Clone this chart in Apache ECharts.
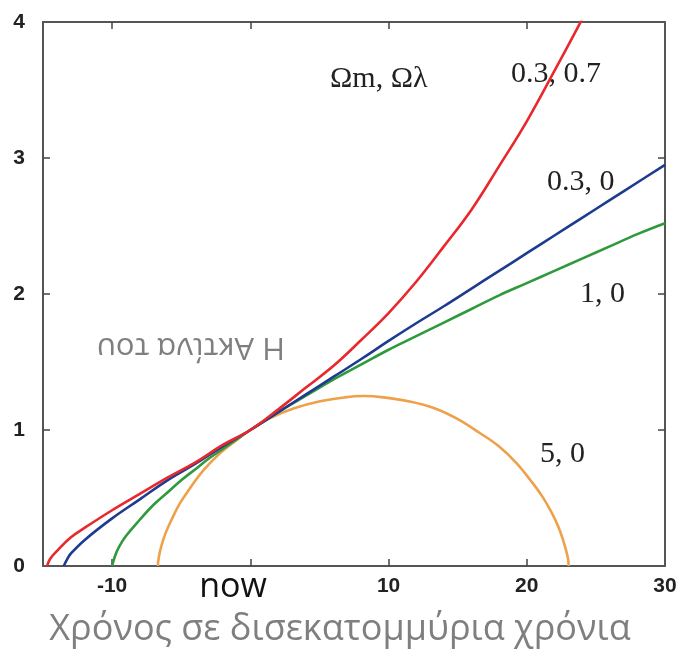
<!DOCTYPE html>
<html>
<head>
<meta charset="utf-8">
<script src="https://cdn.jsdelivr.net/npm/echarts@6/dist/echarts.min.js"></script>
<style>
  html, body { margin: 0; padding: 0; background: #fff; }
  #chart { width: 684px; height: 660px; }
</style>
</head>
<body>
<div id="chart"></div>
<script>
// time in billions of years (0 = now), scale factor
const tRed = [-14.7, -14.5, -14, -13, -12, -10, -8, -6, -4, -2, 0, 2, 4, 6, 8, 10, 12, 14, 16, 18, 20, 22, 24, 25]
const aRed = [0, 0.05, 0.11, 0.21, 0.28, 0.41, 0.53, 0.65, 0.76, 0.89, 1, 1.15, 1.31, 1.47, 1.66, 1.86, 2.09, 2.35, 2.62, 2.94, 3.27, 3.64, 4.02, 4.22]

const tBlue = [-13.5, -13.2, -13, -12, -10, -8, -6, -4, -2, 0, 2, 4, 6, 8, 10, 12, 14, 16, 18, 20, 22, 24, 26, 28, 30]
const aBlue = [0, 0.06, 0.09, 0.19, 0.35, 0.49, 0.63, 0.75, 0.88, 1, 1.13, 1.26, 1.39, 1.52, 1.655, 1.785, 1.91, 2.04, 2.17, 2.3, 2.43, 2.56, 2.69, 2.82, 2.95]

const tGreen = [-10, -9.8, -9.5, -9, -8, -7, -6, -5, -4, -3, -2, -1, 0, 2, 4, 6, 8, 10, 12, 14, 16, 18, 20, 22, 24, 26, 28, 30]
const aGreen = [0, 0.07, 0.14, 0.22, 0.34, 0.45, 0.54, 0.63, 0.71, 0.79, 0.86, 0.93, 1, 1.13, 1.25, 1.37, 1.48, 1.59, 1.69, 1.79, 1.89, 1.99, 2.08, 2.17, 2.26, 2.35, 2.44, 2.52]

const tOrange = [-6.69, -6.67, -6.59, -6.43, -6.14, -5.7, -5.1, -4.31, -3.34, -2.18, -1.19, 0, 1.47, 3.17, 4.97, 6.83, 8.17, 9.66, 11.52, 13.32, 15.01, 16.57, 17.98, 19.22, 20.27, 21.13, 21.81, 22.32, 22.66, 22.88, 22.99, 23.03]
const aOrange = [0, 0.03, 0.08, 0.15, 0.24, 0.34, 0.46, 0.58, 0.71, 0.83, 0.91, 1, 1.09, 1.16, 1.21, 1.24, 1.25, 1.24, 1.21, 1.16, 1.08, 0.98, 0.88, 0.76, 0.63, 0.51, 0.39, 0.28, 0.18, 0.1, 0.05, 0]

const xTicks = [-10, 0, 10, 20]
const xLabels = [-10, 10, 20, 30]
const yTicks = [1, 2, 3]
const yLabels = [0, 1, 2, 3, 4]

function zip(ts, as) {
  return ts.map((t, i) => [t, as[i]])
}

const frame = { show: true, onZero: false, lineStyle: { color: '#555', width: 2 } }
const tickStyle = { color: '#444', width: 1.5 }
const labelStyle = {
  color: '#222',
  fontWeight: 'bold',
  fontSize: 21,
  fontFamily: 'Liberation Sans, Arial, sans-serif'
}

function curve(name, color, data) {
  return {
    name: name,
    type: 'line',
    data: data,
    showSymbol: false,
    smooth: 0.4,
    lineStyle: { color: color, width: 2.6 },
    itemStyle: { color: color },
    animation: false
  }
}

const serif = '30px "Liberation Serif", "Times New Roman", serif'

const chart = echarts.init(document.getElementById('chart'))
chart.setOption({
  backgroundColor: '#fff',
  grid: { left: 43, right: 19, top: 22, bottom: 94 },
  xAxis: [{
    type: 'value',
    position: 'bottom',
    min: -15,
    max: 30,
    interval: 5,
    axisLine: frame,
    axisTick: { inside: true, length: 7, customValues: xTicks, lineStyle: tickStyle },
    axisLabel: Object.assign({ margin: 10, customValues: xLabels }, labelStyle),
    splitLine: { show: false }
  }, {
    type: 'value',
    position: 'top',
    min: -15,
    max: 30,
    interval: 5,
    axisLine: frame,
    axisTick: { inside: true, length: 7, customValues: xTicks, lineStyle: tickStyle },
    axisLabel: { show: false },
    splitLine: { show: false }
  }],
  yAxis: [{
    type: 'value',
    position: 'left',
    min: 0,
    max: 4,
    interval: 1,
    axisLine: frame,
    axisTick: { inside: true, length: 7, customValues: yTicks, lineStyle: tickStyle },
    axisLabel: Object.assign({ margin: 18, customValues: yLabels }, labelStyle),
    splitLine: { show: false }
  }, {
    type: 'value',
    position: 'right',
    min: 0,
    max: 4,
    interval: 1,
    axisLine: frame,
    axisTick: { inside: true, length: 7, customValues: yTicks, lineStyle: tickStyle },
    axisLabel: { show: false },
    splitLine: { show: false }
  }],
  series: [
    curve('5, 0', '#eea04a', zip(tOrange, aOrange)),
    curve('1, 0', '#2f9a3c', zip(tGreen, aGreen)),
    curve('0.3, 0', '#1d3b8f', zip(tBlue, aBlue)),
    curve('0.3, 0.7', '#e8282d', zip(tRed, aRed))
  ],
  graphic: [
    { type: 'text', left: 330, top: 64, style: { text: 'Ωm, Ωλ', font: serif, fill: '#222' } },
    { type: 'text', left: 511, top: 59, style: { text: '0.3, 0.7', font: serif, fill: '#222' } },
    { type: 'text', left: 547, top: 167, style: { text: '0.3, 0', font: serif, fill: '#222' } },
    { type: 'text', left: 580, top: 279, style: { text: '1, 0', font: serif, fill: '#222' } },
    { type: 'text', left: 540, top: 439, style: { text: '5, 0', font: serif, fill: '#222' } },
    {
      type: 'text', x: 191, y: 347, rotation: Math.PI,
      style: { text: 'H Ακτίνα του', font: '31px "Open Sans", sans-serif', fill: '#7f7f7f', align: 'center', verticalAlign: 'middle' }
    },
    {
      type: 'text', x: 233, y: 587,
      style: { text: 'now', font: '34px "Open Sans", sans-serif', fill: '#111', align: 'center', verticalAlign: 'middle' }
    },
    {
      type: 'text', x: 340, y: 630,
      style: { text: 'Χρόνος σε δισεκατομμύρια χρόνια', font: '36px "Open Sans", sans-serif', fill: '#7f7f7f', align: 'center', verticalAlign: 'middle' }
    }
  ]
})
</script>
</body>
</html>
